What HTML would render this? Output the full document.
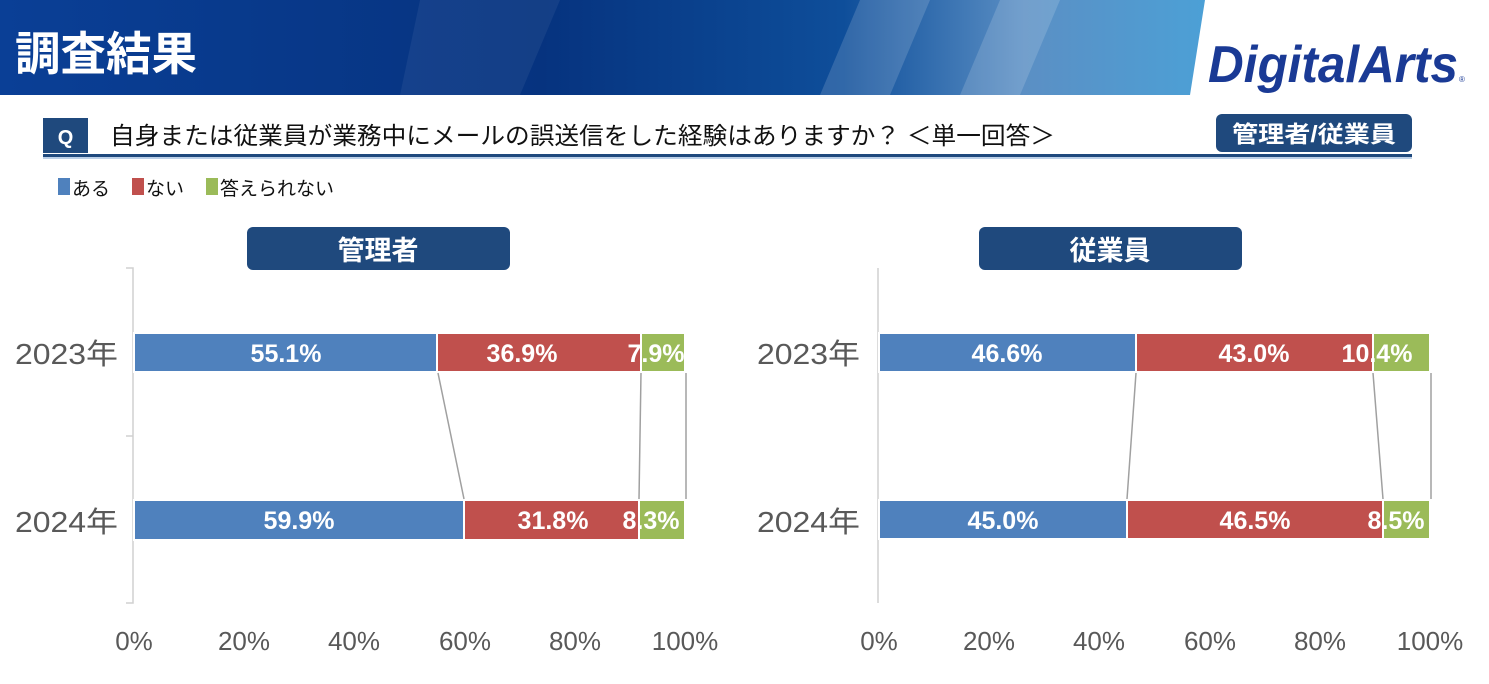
<!DOCTYPE html>
<html><head><meta charset="utf-8"><style>
body{margin:0;width:1489px;height:679px;overflow:hidden;background:#fff;font-family:"Liberation Sans","Noto Sans CJK JP",sans-serif;}
</style></head><body>
<svg width="1489" height="679" xmlns="http://www.w3.org/2000/svg" font-family="Liberation Sans, Noto Sans CJK JP, sans-serif">
<defs>
<linearGradient id="hg" x1="0" y1="0" x2="1" y2="0">
<stop offset="0" stop-color="#0a3f96"/><stop offset="0.45" stop-color="#06337f"/><stop offset="0.7" stop-color="#0e4e9a"/><stop offset="0.85" stop-color="#5b8fc4"/><stop offset="1" stop-color="#4ca0d6"/>
</linearGradient>
</defs>
<polygon points="0,0 1205,0 1190,95 0,95" fill="url(#hg)"/>
<polygon points="420,0 560,0 520,95 400,95" fill="#ffffff" opacity="0.06"/>
<polygon points="860,0 930,0 890,95 820,95" fill="#ffffff" opacity="0.15"/>
<polygon points="1000,0 1060,0 1020,95 960,95" fill="#ffffff" opacity="0.15"/>
<text x="15" y="70" font-size="46" font-weight="bold" fill="#fff" textLength="182" lengthAdjust="spacingAndGlyphs">調査結果</text>
<text x="1208" y="82" font-size="52" font-weight="bold" font-style="italic" fill="#1a3a95" textLength="250" lengthAdjust="spacingAndGlyphs">DigitalArts</text>
<text x="1459" y="82" font-size="8" fill="#1a3a95">®</text>
<rect x="43" y="118" width="45" height="35" fill="#1f497d"/>
<text x="65.5" y="144" font-size="20" font-weight="bold" fill="#fff" text-anchor="middle">Q</text>
<text x="110" y="144" font-size="24" fill="#111" textLength="945" lengthAdjust="spacingAndGlyphs">自身または従業員が業務中にメールの誤送信をした経験はありますか？ ＜単一回答＞</text>
<rect x="43" y="154" width="1369" height="3" fill="#1f497d"/>
<rect x="43" y="157" width="1369" height="2" fill="#bcd0e8"/>
<rect x="1216" y="114" width="196" height="38" rx="6" fill="#1f497d"/>
<text x="1314" y="142" font-size="23" font-weight="bold" fill="#fff" text-anchor="middle" textLength="164" lengthAdjust="spacingAndGlyphs">管理者/従業員</text>
<rect x="58" y="178" width="12" height="17" fill="#4f81bd"/>
<text x="72" y="195" font-size="19" fill="#111">ある</text>
<rect x="132" y="178" width="12" height="17" fill="#c0504d"/>
<text x="146" y="195" font-size="19" fill="#111">ない</text>
<rect x="206" y="178" width="12" height="17" fill="#9bbb59"/>
<text x="220" y="195" font-size="19" fill="#111">答えられない</text>

<!-- left chart -->
<rect x="247" y="227" width="263" height="43" rx="6" fill="#1f497d"/>
<text x="378" y="260" font-size="27" font-weight="bold" fill="#fff" text-anchor="middle">管理者</text>
<path d="M126,268H133V603H126M126,436H133" stroke="#d0d0d0" stroke-width="1.5" fill="none"/>
<g font-size="25" font-weight="bold" text-anchor="middle" fill="#fff">
<rect x="134" y="333" width="303" height="39" fill="#4f81bd" stroke="#fff" stroke-width="2"/>
<rect x="437" y="333" width="204" height="39" fill="#c0504d" stroke="#fff" stroke-width="2"/>
<rect x="641" y="333" width="44" height="39" fill="#9bbb59" stroke="#fff" stroke-width="2"/>
<text x="286" y="362">55.1%</text><text x="522" y="362">36.9%</text><text x="656" y="362">7.9%</text>
<rect x="134" y="500" width="330" height="40" fill="#4f81bd" stroke="#fff" stroke-width="2"/>
<rect x="464" y="500" width="175" height="40" fill="#c0504d" stroke="#fff" stroke-width="2"/>
<rect x="639" y="500" width="46" height="40" fill="#9bbb59" stroke="#fff" stroke-width="2"/>
<text x="299" y="529">59.9%</text><text x="553" y="529">31.8%</text><text x="651" y="529">8.3%</text>
</g>
<path d="M438,373L464,499M641,373L639,499M686,373V499" stroke="#a0a0a0" stroke-width="1.5"/>
<g font-size="29" fill="#595959"><text x="15" y="364" textLength="103" lengthAdjust="spacingAndGlyphs">2023年</text><text x="15" y="532" textLength="103" lengthAdjust="spacingAndGlyphs">2024年</text></g>
<g font-size="26" fill="#595959" text-anchor="middle"><text x="134" y="650">0%</text><text x="244" y="650">20%</text><text x="354" y="650">40%</text><text x="465" y="650">60%</text><text x="575" y="650">80%</text><text x="685" y="650">100%</text></g>

<!-- right chart -->
<rect x="979" y="227" width="263" height="43" rx="6" fill="#1f497d"/>
<text x="1110" y="260" font-size="27" font-weight="bold" fill="#fff" text-anchor="middle">従業員</text>
<path d="M878,268V603" stroke="#d0d0d0" stroke-width="1.5"/>
<g font-size="25" font-weight="bold" text-anchor="middle" fill="#fff">
<rect x="879" y="333" width="257" height="39" fill="#4f81bd" stroke="#fff" stroke-width="2"/>
<rect x="1136" y="333" width="237" height="39" fill="#c0504d" stroke="#fff" stroke-width="2"/>
<rect x="1373" y="333" width="57" height="39" fill="#9bbb59" stroke="#fff" stroke-width="2"/>
<text x="1007" y="362">46.6%</text><text x="1254" y="362">43.0%</text><text x="1377" y="362">10.4%</text>
<rect x="879" y="500" width="248" height="39" fill="#4f81bd" stroke="#fff" stroke-width="2"/>
<rect x="1127" y="500" width="256" height="39" fill="#c0504d" stroke="#fff" stroke-width="2"/>
<rect x="1383" y="500" width="47" height="39" fill="#9bbb59" stroke="#fff" stroke-width="2"/>
<text x="1003" y="529">45.0%</text><text x="1255" y="529">46.5%</text><text x="1396" y="529">8.5%</text>
</g>
<path d="M1136,373L1127,499M1373,373L1383,499M1431,373V499" stroke="#a0a0a0" stroke-width="1.5"/>
<g font-size="29" fill="#595959"><text x="757" y="364" textLength="103" lengthAdjust="spacingAndGlyphs">2023年</text><text x="757" y="532" textLength="103" lengthAdjust="spacingAndGlyphs">2024年</text></g>
<g font-size="26" fill="#595959" text-anchor="middle"><text x="879" y="650">0%</text><text x="989" y="650">20%</text><text x="1099" y="650">40%</text><text x="1210" y="650">60%</text><text x="1320" y="650">80%</text><text x="1430" y="650">100%</text></g>
</svg>
</body></html>
